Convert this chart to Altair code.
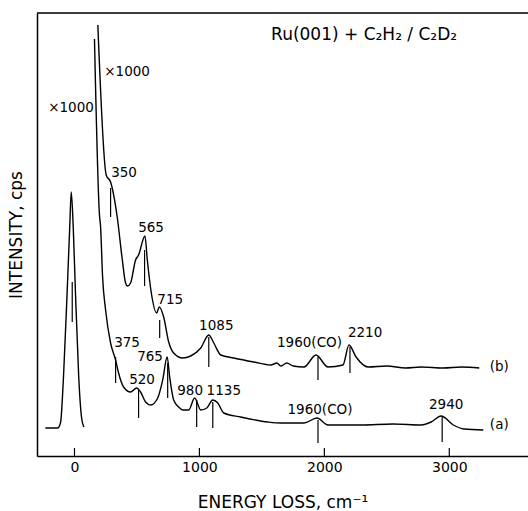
import altair as alt
import pandas as pd

# Curve (b): energy loss (cm-1) and intensity (arbitrary units, x1000 gain)
b_energy = [187, 254, 289, 342, 383, 409, 425, 449, 489, 513, 564, 583, 615, 658, 678, 714, 754,
            794, 866, 930, 1011, 1075, 1115, 1171, 1275, 1436, 1572, 1620, 1652, 1700, 1750, 1837,
            1933, 2029, 2149, 2197, 2254, 2350, 2500, 2650, 2775, 2950, 3100, 3240]
b_int = [431, 281, 274, 239, 196, 173, 170, 173, 196, 201, 220, 196, 163, 143, 149, 139, 114,
         103, 98, 100, 108, 121, 113, 101, 98, 94, 91, 93, 90, 93, 90, 89,
         101, 89, 91, 111, 99, 89, 90, 88, 89, 88, 89, 88]

# Curve (a), elastic peak (x1)
a0_energy = [-233, -136, -112, -88, -59, -38, -26, -10, 8, 34, 56, 75]
a0_int = [28, 28, 33, 79, 163, 229, 264, 229, 163, 79, 39, 29]

# Curve (a), x1000 gain
a1_energy = [160, 200, 209, 225, 249, 289, 329, 353, 393, 449, 497, 529, 569, 610, 666, 706, 742,
             762, 794, 834, 866, 914, 962, 1011, 1059, 1107, 1147, 1195, 1331, 1548, 1652, 1837,
             1941, 2029, 2294, 2550, 2775, 2855, 2935, 3032, 3120, 3272]
a1_int = [417, 241, 229, 179, 146, 113, 96, 83, 69, 64, 68, 64, 54, 51, 58, 76, 99,
          79, 56, 49, 46, 46, 58, 46, 48, 56, 53, 43, 39, 34, 33, 33,
          38, 31, 31, 32, 31, 34, 40, 31, 27, 26]

# Peak marker lines
drop_x = [-18, 289, 561, 682, 329, 513, 746, 1075, 978, 1107, 1949, 2205, 1949, 2943]
drop_top = [174, 268, 206, 136, 99, 66, 93, 119, 56, 54, 99, 109, 36, 39]
drop_bot = [134, 239, 170, 118, 73, 38, 58, 89, 29, 28, 76, 83, 13, 14]

# Peak labels
lab_text = ["×1000", "×1000", "350", "565", "715", "1085", "375", "765", "520", "980", "1135",
            "1960(CO)", "2210", "1960(CO)", "2940", "(b)", "(a)"]
lab_x = [-28, 421, 397, 613, 766, 1135, 421, 605, 541, 926, 1195, 1881, 2326, 1965, 2975, 3400, 3400]
lab_y = [348, 384, 283, 228, 156, 130, 113, 99, 76, 65, 65, 113, 123, 46, 51, 89, 31]

tick_vals = [0, 1000, 2000, 3000]

XD = [-300, 3630]
YD = [0, 443]
FONT = "DejaVu Sans"

rows = []
for e, i in zip(b_energy, b_int):
    rows.append({"E": e, "I": i, "seg": "b"})
for e, i in zip(a0_energy, a0_int):
    rows.append({"E": e, "I": i, "seg": "a0"})
for e, i in zip(a1_energy, a1_int):
    rows.append({"E": e, "I": i, "seg": "a1"})
curves = pd.DataFrame(rows)
curves["order"] = range(len(curves))

xs = alt.Scale(domain=XD, nice=False, zero=False)
ys = alt.Scale(domain=YD, nice=False, zero=False)

lines = alt.Chart(curves).mark_line(color="black", strokeWidth=1.4, interpolate="monotone").encode(
    x=alt.X("E:Q", scale=xs, title="ENERGY LOSS, cm⁻¹",
            axis=alt.Axis(values=tick_vals, format="d", ticks=False, grid=False, labelPadding=4,
                          labelFontSize=14, labelFont=FONT, labelColor="black",
                          titleFontSize=17, titleFont=FONT, titleFontWeight="normal",
                          titlePadding=20, domainColor="black", domainWidth=1.5, labelFlush=False)),
    y=alt.Y("I:Q", scale=ys, title="INTENSITY, cps",
            axis=alt.Axis(labels=False, ticks=False, grid=False, titleFontSize=17, titleFont=FONT,
                          titleFontWeight="normal", titlePadding=12, domainColor="black",
                          domainWidth=1.5)),
    detail="seg:N",
    order="order:Q",
)

drops = alt.Chart(pd.DataFrame({"x": drop_x, "t": drop_top, "b": drop_bot})).mark_rule(
    color="black", strokeWidth=1.2).encode(
    x=alt.X("x:Q", scale=xs), y=alt.Y("t:Q", scale=ys), y2="b:Q")

ticks = alt.Chart(pd.DataFrame({"x": tick_vals, "t": [8] * 4, "b": [0] * 4})).mark_rule(
    color="black", strokeWidth=1.2).encode(
    x=alt.X("x:Q", scale=xs), y=alt.Y("t:Q", scale=ys), y2="b:Q")

top = alt.Chart(pd.DataFrame({"x": [XD[0]], "x2": [XD[1]], "y": [YD[1]]})).mark_rule(
    color="black", strokeWidth=1.5).encode(
    x=alt.X("x:Q", scale=xs), x2="x2:Q", y=alt.Y("y:Q", scale=ys))

labels = alt.Chart(pd.DataFrame({"x": lab_x, "y": lab_y, "t": lab_text})).mark_text(
    font=FONT, fontSize=13.5, color="black", align="center", baseline="middle").encode(
    x=alt.X("x:Q", scale=xs), y=alt.Y("y:Q", scale=ys), text="t:N")

title = alt.Chart(pd.DataFrame({"x": [2318], "y": [421], "t": ["Ru(001) + C₂H₂ / C₂D₂"]})).mark_text(
    font=FONT, fontSize=17, color="black", align="center", baseline="middle").encode(
    x=alt.X("x:Q", scale=xs), y=alt.Y("y:Q", scale=ys), text="t:N")

chart = alt.layer(top, ticks, drops, lines, labels, title).properties(
    width=491, height=443,
    autosize=alt.AutoSizeParams(type="none"),
    padding={"left": 37, "top": 13, "right": 0, "bottom": 55},
).configure_view(stroke=None).configure(background="white")

chart.save("out.html", embed_options={"renderer": "svg", "actions": False})
